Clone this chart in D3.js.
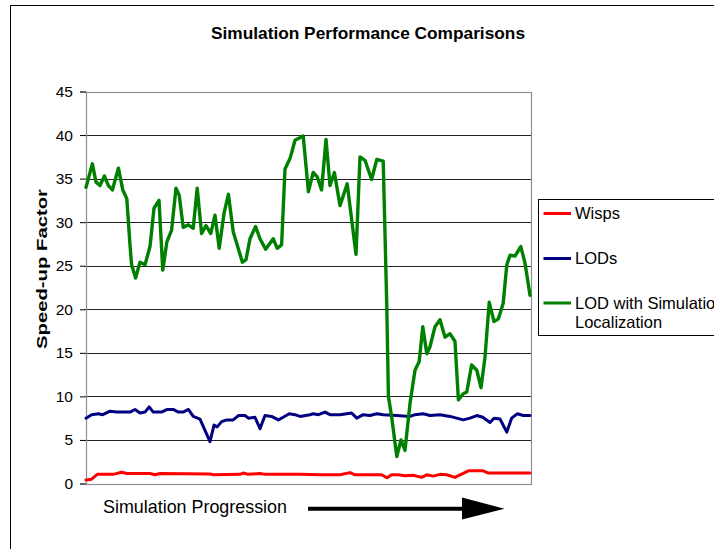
<!DOCTYPE html>
<html>
<head>
<meta charset="utf-8">
<script src="https://cdn.jsdelivr.net/npm/d3@7"></script>
<style>
  html, body { margin: 0; padding: 0; background: #fff; overflow: hidden; }
  svg { display: block; font-family: "Liberation Sans", Arial, sans-serif; }
</style>
</head>
<body>
<svg id="chart" width="714" height="549"></svg>
<script>
// ---- data (x = simulation progression step, y = speed-up factor) ----
const title = "Simulation Performance Comparisons";
const yLabel = "Speed-up Factor";
const xLabel = "Simulation Progression";
const yTicks = [0, 5, 10, 15, 20, 25, 30, 35, 40, 45];
const seriesNames = ["Wisps", "LODs", "LOD with Simulation Localization"];

const wispsX = [0, 1.4, 2.8, 6.8, 8.9, 10.2, 16, 17.25, 18.5, 31, 31.8, 38.5, 39.3, 40.6, 43.5, 44.75, 53.5, 58.5, 63.5, 66, 67.25, 73.9, 75.3, 76.4, 78.1, 79.75, 81.8, 83.9, 85.2, 86.8, 88.5, 90.2, 92.25, 93.5, 95.6, 99.3, 100.6, 111];
const wispsY = [0.4, 0.5, 1.05, 1.05, 1.3, 1.15, 1.15, 1.0, 1.15, 1.1, 1.0, 1.05, 1.2, 1.05, 1.15, 1.05, 1.05, 1.0, 1.0, 1.25, 1.0, 1.0, 0.65, 1.0, 1.0, 0.9, 0.95, 0.7, 1.0, 0.85, 1.05, 1.0, 0.7, 1.0, 1.45, 1.45, 1.2, 1.2];

const lodsX = [0, 1.4, 3.1, 4.2, 6, 7.7, 9.3, 11, 12.25, 13.5, 14.75, 15.8, 16.8, 18.9, 20.3, 21.8, 23.1, 24.3, 25.6, 26.8, 28.5, 29.75, 31, 32, 32.8, 33.9, 35.2, 36.8, 38.1, 39.75, 40.6, 42.25, 43.5, 44.75, 46.4, 48.1, 49.3, 50.8, 52.25, 53.5, 56, 56.8, 58.1, 59.75, 61, 63.5, 66.4, 67.7, 69.3, 71, 72.7, 74.3, 77.7, 81, 82.25, 84.3, 86, 88.5, 91, 94.3, 96, 97.7, 99.2, 101, 102, 103.5, 105.2, 106.4, 107.8, 109.3, 111];
const lodsY = [7.5, 7.9, 8.0, 7.9, 8.3, 8.2, 8.2, 8.2, 8.5, 8.1, 8.2, 8.8, 8.2, 8.2, 8.5, 8.5, 8.2, 8.2, 8.5, 7.7, 7.4, 6.1, 4.8, 6.7, 6.5, 7.1, 7.3, 7.3, 7.8, 7.8, 7.5, 7.6, 6.3, 7.8, 7.7, 7.3, 7.6, 8.0, 7.9, 7.7, 7.9, 8.0, 7.9, 8.2, 7.9, 7.9, 8.1, 7.5, 7.9, 7.8, 8.0, 7.9, 7.8, 7.7, 7.9, 8.0, 7.8, 7.9, 7.7, 7.3, 7.5, 7.8, 7.6, 7.0, 7.5, 7.4, 5.9, 7.5, 8.0, 7.8, 7.8];

const lodSimX = [0, 1.6, 2.5, 3.5, 4.6, 5.6, 6.6, 8.1, 9.2, 10.2, 11, 11.4, 12.4, 13.5, 14.75, 16, 17, 18.25, 19.2, 20.2, 21.4, 22.5, 23.3, 24.3, 25.6, 26.8, 27.8, 28.9, 30, 31.2, 32.25, 33.3, 34.5, 35.6, 36.8, 39.1, 40, 41, 42.4, 43.5, 44.9, 46.8, 47.8, 48.9, 49.75, 51, 52.25, 54.3, 55.6, 56.8, 57.8, 58.9, 60, 61, 62.1, 63.5, 65.3, 67.5, 68.5, 69.75, 71.4, 72.7, 74.3, 75.2, 75.6, 76.4, 77.7, 78.75, 79.75, 81, 82.25, 83.3, 84.2, 85.2, 86, 87.25, 88.5, 89.75, 91, 92.25, 93.1, 94.3, 95.2, 96.4, 97.7, 98.75, 99.75, 100.8, 102, 103.1, 104.3, 105.2, 106, 107.25, 108.7, 109.75, 111];
const lodSimY = [34.0, 36.7, 34.6, 34.2, 35.3, 34.2, 33.7, 36.2, 33.7, 32.7, 27.4, 25.1, 23.6, 25.4, 25.1, 27.2, 31.6, 32.5, 24.5, 27.7, 29.1, 33.9, 33.1, 29.4, 29.7, 29.3, 33.9, 28.7, 29.6, 28.7, 30.8, 27.0, 31.0, 33.2, 28.9, 25.4, 25.7, 28.1, 29.5, 28.1, 26.9, 28.1, 27.0, 27.4, 36.1, 37.3, 39.4, 39.9, 33.5, 35.7, 35.2, 33.7, 39.5, 34.2, 35.7, 31.9, 34.4, 26.3, 37.5, 37.1, 34.9, 37.2, 37.0, 20.3, 10.0, 7.7, 3.1, 5.0, 3.8, 9.2, 13.0, 14.0, 18.0, 14.9, 15.7, 18.0, 18.8, 16.8, 17.2, 16.3, 9.6, 10.3, 10.5, 13.6, 13.0, 11.0, 14.5, 20.8, 18.6, 18.9, 20.7, 25.1, 26.2, 26.1, 27.2, 25.3, 21.6];

const colors = ["#ff0000", "#000080", "#008000"];

// ---- layout ----
const svg = d3.select("#chart");
const plot = { left: 86, right: 531, top: 91.5, bottom: 483.5 };

const x = d3.scaleLinear().domain([0, 111]).range([plot.left, plot.right - 1]);
const y = d3.scaleLinear().domain([0, 45]).range([plot.bottom, plot.top]);

// outer frame
svg.append("rect").attr("x", 10.5).attr("y", 5.5).attr("width", 760).attr("height", 600)
  .attr("fill", "none").attr("stroke", "#000").attr("stroke-width", 1);

// title
svg.append("text").attr("x", 368).attr("y", 39).attr("text-anchor", "middle")
  .attr("font-size", 17.3).attr("font-weight", "bold").text(title);

// gridlines
svg.append("g").selectAll("line").data(yTicks.filter(d => d > 0)).join("line")
  .attr("x1", plot.left).attr("x2", plot.right)
  .attr("y1", d => Math.round(y(d)) + 0.5).attr("y2", d => Math.round(y(d)) + 0.5)
  .attr("stroke", "#222").attr("stroke-width", 1);

// plot border (gray)
svg.append("rect").attr("x", plot.left + 0.5).attr("y", Math.round(plot.top) + 0.5)
  .attr("width", plot.right - plot.left).attr("height", Math.round(plot.bottom) - Math.round(plot.top))
  .attr("fill", "none").attr("stroke", "#909090").attr("stroke-width", 1.2);

// y axis with ticks
const yAxis = d3.axisLeft(y).tickValues(yTicks).tickSize(6).tickPadding(7).tickFormat(d3.format("d"));
const ga = svg.append("g").attr("transform", `translate(${plot.left},0)`).call(yAxis);
ga.select(".domain").attr("stroke", "#909090");
ga.selectAll(".tick line").attr("stroke", "#000");
ga.selectAll(".tick text").attr("font-size", 15.5).attr("fill", "#000")
  .attr("font-family", '"Liberation Sans", Arial, sans-serif');

// y label
svg.append("text").attr("transform", "translate(47,269) rotate(-90)")
  .attr("text-anchor", "middle").attr("font-size", 15).attr("font-weight", "bold")
  .attr("textLength", 160).attr("lengthAdjust", "spacingAndGlyphs").text(yLabel);

// lines
const line = d3.line().x(d => x(d[0])).y(d => y(d[1]));
const series = [
  d3.zip(wispsX, wispsY),
  d3.zip(lodsX, lodsY),
  d3.zip(lodSimX, lodSimY)
];
const widths = [3, 3, 3.4];
svg.append("g").selectAll("path").data(series).join("path")
  .attr("d", line).attr("fill", "none")
  .attr("stroke", (d, i) => colors[i]).attr("stroke-width", (d, i) => widths[i])
  .attr("stroke-linejoin", "round").attr("stroke-linecap", "round");

// x label + arrow
svg.append("text").attr("x", 103).attr("y", 513).attr("font-size", 17.9).text(xLabel);
svg.append("line").attr("x1", 308).attr("x2", 464).attr("y1", 508.7).attr("y2", 508.7)
  .attr("stroke", "#000").attr("stroke-width", 4);
svg.append("path").attr("d", "M462,497.5 L504.5,508.7 L462,519.5 Z").attr("fill", "#000");

// legend
const lg = svg.append("g");
lg.append("rect").attr("x", 538.5).attr("y", 199.5).attr("width", 200).attr("height", 136)
  .attr("fill", "#fff").attr("stroke", "#000").attr("stroke-width", 1);
const legendY = [213.5, 258.5, 303];
lg.selectAll("line").data(seriesNames).join("line")
  .attr("x1", 543.5).attr("x2", 571).attr("y1", (d, i) => legendY[i]).attr("y2", (d, i) => legendY[i])
  .attr("stroke", (d, i) => colors[i]).attr("stroke-width", 3);
const lt = lg.selectAll("text").data(seriesNames).join("text")
  .attr("x", 575).attr("y", (d, i) => legendY[i] + 5.5).attr("font-size", 16.5);
lt.each(function(d, i) {
  const t = d3.select(this);
  if (i === 2) {
    t.append("tspan").attr("x", 575).text("LOD with Simulation");
    t.append("tspan").attr("x", 575).attr("dy", 19.5).text("Localization");
  } else {
    t.text(d);
  }
});
</script>
</body>
</html>
